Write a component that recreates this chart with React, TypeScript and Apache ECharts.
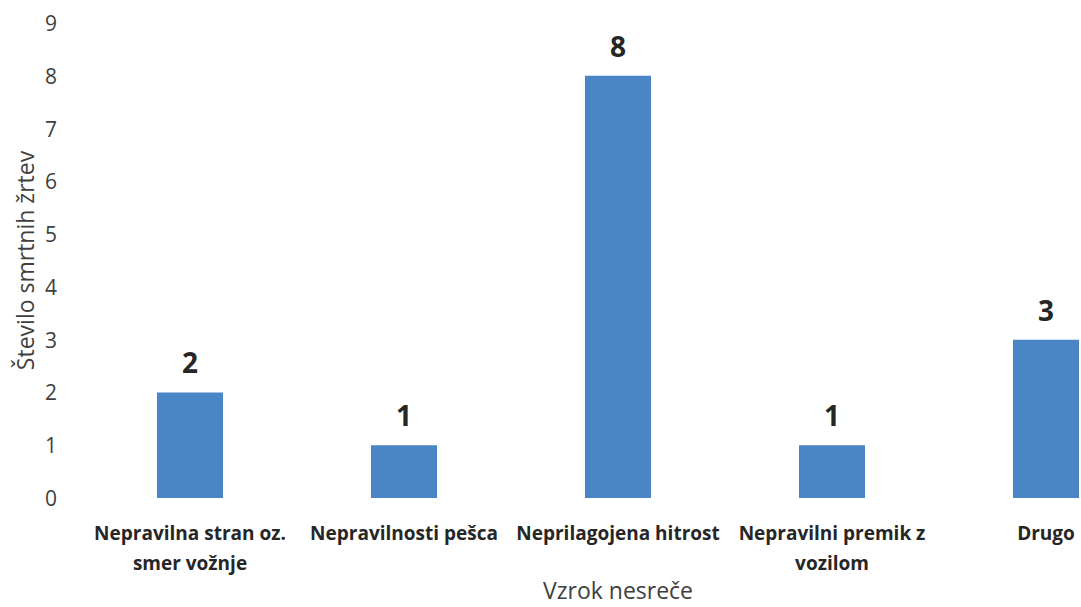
import React, { useEffect, useRef } from "react";
import * as echarts from "echarts";

const categories = [
  "Nepravilna stran oz. smer vožnje",
  "Nepravilnosti pešca",
  "Neprilagojena hitrost",
  "Nepravilni premik z vozilom",
  "Drugo",
];
const categoryLabels = [
  "Nepravilna stran oz.\nsmer vožnje",
  "Nepravilnosti pešca",
  "Neprilagojena hitrost",
  "Nepravilni premik z\nvozilom",
  "Drugo",
];
const victims = [2, 1, 8, 1, 3];
const yTicks = [0, 1, 2, 3, 4, 5, 6, 7, 8, 9];
const yAxisTitle = "Število smrtnih žrtev";
const xAxisTitle = "Vzrok nesreče";

export default function App() {
  const ref = useRef<HTMLDivElement>(null);
  useEffect(() => {
    const chart = echarts.init(ref.current!, null, { renderer: "svg" });
    chart.setOption({
      animation: false,
      backgroundColor: "#ffffff",
      grid: { left: 83, right: 0, top: 23, bottom: 109, containLabel: false, outerBoundsMode: "none" },
      xAxis: {
        type: "category",
        data: categories,
        axisLine: { show: false },
        axisTick: { show: false },
        axisLabel: {
          interval: 0,
          margin: 20,
          fontFamily: "Open Sans",
          fontWeight: "bold",
          fontSize: 19,
          lineHeight: 30,
          color: "#262626",
          formatter: (_v: string, i: number) => categoryLabels[i],
        },
        name: xAxisTitle,
        nameLocation: "middle",
        nameGap: 80,
        nameMoveOverlap: false,
        nameTextStyle: { fontFamily: "Open Sans", fontSize: 23, lineHeight: 24, color: "#404040" },
      },
      yAxis: {
        type: "value",
        min: yTicks[0],
        max: yTicks[yTicks.length - 1],
        interval: 1,
        splitLine: { show: false },
        axisLine: { show: false },
        axisTick: { show: false },
        axisLabel: {
          margin: 26,
          fontFamily: "Open Sans",
          fontSize: 21,
          color: "#404040",
        },
        name: yAxisTitle,
        nameLocation: "middle",
        nameGap: 47,
        nameMoveOverlap: false,
        nameTextStyle: { fontFamily: "Open Sans", fontSize: 23, color: "#404040" },
      },
      series: [
        {
          type: "bar",
          data: victims,
          barWidth: 66,
          itemStyle: { color: "#4A86C6" },
          label: {
            show: true,
            position: "top",
            distance: 16,
            fontFamily: "Open Sans",
            fontWeight: "bold",
            fontSize: 28,
            color: "#262626",
          },
        },
      ],
    });
    return () => chart.dispose();
  }, []);
  return (
    <div style={{ position: "absolute", left: 0, top: 0, width: 1081, height: 607, overflow: "hidden", background: "#fff" }}>
      <div ref={ref} style={{ width: 1153, height: 607 }} />
    </div>
  );
}
